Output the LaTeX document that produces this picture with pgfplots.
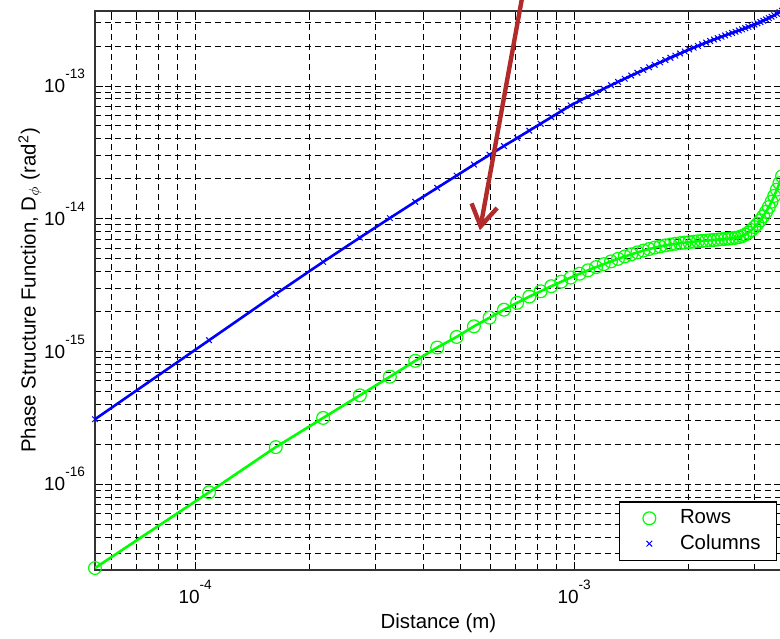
\documentclass[border=0pt]{standalone}
\usepackage{fontspec}
\setmainfont{Liberation Sans}
\usepackage{pgfplots}
\pgfplotsset{compat=1.18}
\usepackage{pgfplotstable}
\usetikzlibrary{arrows.meta}
\definecolor{arrowred}{RGB}{178,42,42}
\newcommand\tl[1]{10\raisebox{7pt}{\fontsize{6.8}{7}\selectfont #1}}

\pgfplotstableread{
x g b
5.44e-5 2.34e-17 3.090e-16
1.088e-4 8.71e-17 1.216e-15
1.632e-4 1.905e-16 2.710e-15
2.176e-4 3.162e-16 4.732e-15
2.72e-4 4.677e-16 7.211e-15
3.264e-4 6.457e-16 1.012e-14
3.808e-4 8.511e-16 1.343e-14
4.352e-4 1.072e-15 1.710e-14
4.896e-4 1.288e-15 2.113e-14
5.44e-4 1.549e-15 2.559e-14
5.984e-4 1.799e-15 3.034e-14
6.528e-4 2.065e-15 3.532e-14
7.072e-4 2.328e-15 4.055e-14
7.616e-4 2.594e-15 4.613e-14
8.16e-4 2.844e-15 5.200e-14
8.704e-4 3.105e-15 5.821e-14
9.248e-4 3.357e-15 6.471e-14
9.792e-4 3.606e-15 7.145e-14
1.0336e-3 3.855e-15 7.745e-14
1.088e-3 4.093e-15 8.337e-14
1.1424e-3 4.325e-15 8.933e-14
1.1968e-3 4.550e-15 9.528e-14
1.2512e-3 4.775e-15 1.014e-13
1.3056e-3 4.989e-15 1.074e-13
1.36e-3 5.200e-15 1.135e-13
1.4144e-3 5.395e-15 1.197e-13
1.4688e-3 5.585e-15 1.259e-13
1.5232e-3 5.754e-15 1.321e-13
1.5776e-3 5.916e-15 1.384e-13
1.632e-3 6.067e-15 1.445e-13
1.6864e-3 6.190e-15 1.507e-13
1.7408e-3 6.300e-15 1.570e-13
1.7952e-3 6.400e-15 1.633e-13
1.8496e-3 6.480e-15 1.694e-13
1.904e-3 6.550e-15 1.758e-13
1.9584e-3 6.610e-15 1.820e-13
2.0128e-3 6.670e-15 1.884e-13
2.0672e-3 6.720e-15 1.945e-13
2.1216e-3 6.770e-15 2.004e-13
2.176e-3 6.810e-15 2.065e-13
2.2304e-3 6.850e-15 2.123e-13
2.2848e-3 6.890e-15 2.183e-13
2.3392e-3 6.930e-15 2.239e-13
2.3936e-3 6.970e-15 2.296e-13
2.448e-3 7.010e-15 2.350e-13
2.5024e-3 7.050e-15 2.404e-13
2.5568e-3 7.090e-15 2.460e-13
2.6112e-3 7.130e-15 2.512e-13
2.6656e-3 7.190e-15 2.564e-13
2.72e-3 7.270e-15 2.618e-13
2.7744e-3 7.400e-15 2.673e-13
2.8288e-3 7.600e-15 2.729e-13
2.8832e-3 7.870e-15 2.786e-13
2.9376e-3 8.220e-15 2.844e-13
2.992e-3 8.650e-15 2.904e-13
3.0464e-3 9.150e-15 2.965e-13
3.1008e-3 9.750e-15 3.034e-13
3.1552e-3 1.045e-14 3.105e-13
3.2096e-3 1.127e-14 3.177e-13
3.264e-3 1.225e-14 3.251e-13
3.3184e-3 1.343e-14 3.327e-13
3.3728e-3 1.486e-14 3.412e-13
3.4272e-3 1.656e-14 3.499e-13
3.4816e-3 1.854e-14 3.589e-13
3.536e-3 2.089e-14 3.681e-13
}\data

\begin{document}
\begin{tikzpicture}
\useasboundingbox (-47.5pt,-34pt) rectangle (342.5pt,285pt);
\clip (-47.5pt,-34pt) rectangle (342.5pt,285pt);
\begin{axis}[
  at={(0pt,0pt)}, anchor=south west,
  xmode=log, ymode=log,
  scale only axis, width=343.5pt, height=279.65pt,
  xmin=5.44e-5, xmax=3.536e-3, ymin=2.26e-17, ymax=3.69e-13,
  xtick={1e-4,1e-3},
  xticklabels={\tl{-4},\tl{-3}},
  ytick={1e-16,1e-15,1e-14,1e-13},
  yticklabels={\tl{-16},\tl{-15},\tl{-14},\tl{-13}},
  minor xtick={6e-5,7e-5,8e-5,9e-5,2e-4,3e-4,4e-4,5e-4,6e-4,7e-4,8e-4,9e-4,2e-3,3e-3},
  minor ytick={3e-17,4e-17,5e-17,6e-17,7e-17,8e-17,9e-17,2e-16,3e-16,4e-16,5e-16,6e-16,7e-16,8e-16,9e-16,2e-15,3e-15,4e-15,5e-15,6e-15,7e-15,8e-15,9e-15,2e-14,3e-14,4e-14,5e-14,6e-14,7e-14,8e-14,9e-14,2e-13,3e-13},
  grid=both,
  major grid style={black, line width=0.5pt, dash pattern=on 3pt off 2pt},
  minor grid style={black, line width=0.5pt, dash pattern=on 3pt off 2pt},
  tick align=inside,
  major tick length=4pt, minor tick length=2.5pt,
  tick style={black, line width=0.5pt, solid},
  axis line style={line width=0.8pt, black!80},
  tick label style={font=\fontsize{9.5}{10}\selectfont},
  xticklabel style={yshift=-1.5pt},
  yticklabel style={xshift=-1.5pt, yshift=2.5pt},
  label style={font=\fontsize{10.2}{12}\selectfont},
  xlabel={Distance (m)},
  ylabel={Phase Structure Function, D$_{\phi}$ (rad\textsuperscript{2})},
  xlabel style={at={(axis description cs:0.5,-0.0948)}, anchor=center},
  ylabel style={at={(axis description cs:-0.0946,0.5)}, anchor=center},
  clip mode=individual,
  legend style={at={(0.9932,0.0155)}, anchor=south east, draw=black, line width=0.8pt, fill=white,
    inner xsep=6pt, inner ysep=2pt, font=\fontsize{10.2}{12}\selectfont,
    /tikz/every odd column/.append style={column sep=4.4pt}},
  legend cell align=left,
  legend image code/.code={\path (0cm,0cm) (0.6cm,0cm);
    \draw[mark repeat=2,mark phase=2,#1] plot coordinates {(0cm,0cm) (0.3cm,0cm) (0.6cm,0cm)};},
]
\addplot[green, line width=1.3pt, forget plot] table[x=x,y=g]{\data};
\addplot[green, only marks, mark=o, mark size=3.2pt, mark options={line width=0.6pt}] table[x=x,y=g]{\data};
\addlegendentry{Rows}
\addplot[blue, line width=1.3pt, forget plot] table[x=x,y=b]{\data};
\addplot[blue, only marks, mark=x, mark size=2pt, mark options={line width=0.5pt}] table[x=x,y=b]{\data};
\addlegendentry{Columns}
\draw[arrowred, line width=2.2pt, -{Straight Barb[length=10.5pt,width=13pt]}]
  (axis cs:7.43e-4,6.24e-13) -- (axis cs:5.64e-4,8.17e-15);
\end{axis}
\end{tikzpicture}
\end{document}
